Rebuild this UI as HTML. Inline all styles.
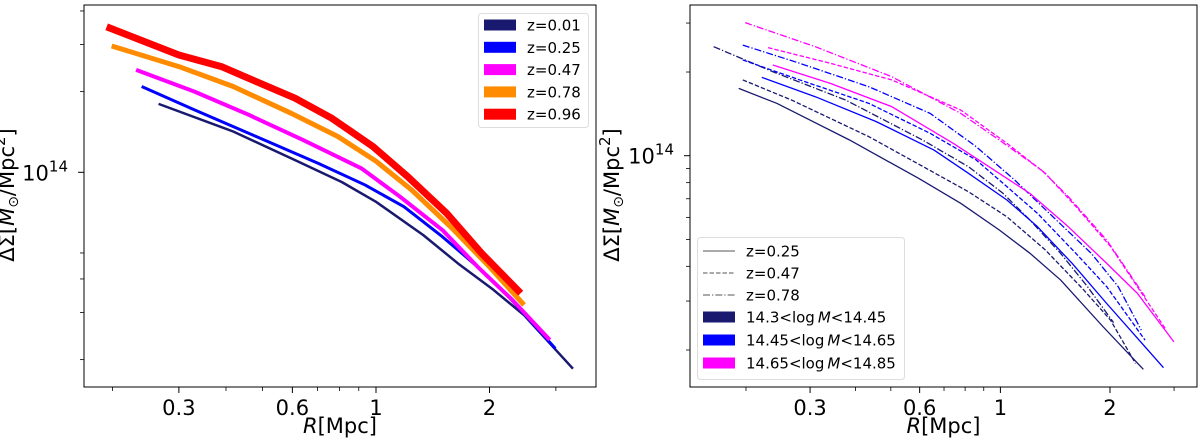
<!DOCTYPE html>
<html><head><meta charset="utf-8">
<style>
html,body{margin:0;padding:0;background:#fff;}
svg{display:block;font-family:"DejaVu Sans","Liberation Sans",sans-serif;}
</style></head>
<body>
<svg id="fig" width="1200" height="439" viewBox="0 0 1200 439" xmlns="http://www.w3.org/2000/svg">
<defs>
<clipPath id="clipL"><rect x="84" y="5" width="512" height="382"/></clipPath>
<clipPath id="clipR"><rect x="690" y="5" width="507" height="382"/></clipPath>
</defs>
<g id="left"></g>
<g id="right"></g>
</svg>
<script>
// ---------- LEFT PANEL DATA (R in Mpc, DeltaSigma in 1e14 Msun/Mpc^2) ----------
const leftLabels = ["z=0.01","z=0.25","z=0.47","z=0.78","z=0.96"];
const leftColors = ["#191970","#0000ff","#ff00ff","#ff8c00","#ff0000"];
const leftWidths = [2.5,3,4,5,7];
const leftR_z001 = [0.265,0.418,0.610,0.811,1.0,1.335,1.65,2.05,2.47,3.33];
const leftV_z001 = [1.80,1.42,1.11,0.92,0.776,0.583,0.457,0.364,0.293,0.185];
const leftR_z025 = [0.239,0.330,0.481,0.703,0.935,1.186,1.50,1.86,2.25,2.99];
const leftV_z025 = [2.09,1.71,1.36,1.08,0.897,0.744,0.575,0.444,0.343,0.220];
const leftR_z047 = [0.231,0.330,0.459,0.640,0.914,1.158,1.50,1.86,2.30,2.89];
const leftV_z047 = [2.41,2.0,1.64,1.32,1.035,0.811,0.609,0.444,0.334,0.237];
const leftR_z078 = [0.199,0.300,0.418,0.596,0.792,1.0,1.243,1.576,2.0,2.47];
const leftV_z078 = [2.96,2.48,2.09,1.66,1.36,1.10,0.859,0.627,0.444,0.320];
const leftR_z096 = [0.193,0.300,0.389,0.481,0.610,0.764,0.98,1.214,1.54,1.905,2.42];
const leftV_z096 = [3.49,2.74,2.48,2.18,1.89,1.59,1.25,0.963,0.703,0.499,0.354];
const xMajorTicks = [0.3,0.6,1,2];
const xMajorLabels = ["0.3","0.6","1","2"];
const xMinorTicks = [0.2,0.4,0.5,0.7,0.8,0.9,3];
const leftYMinor = [0.2,0.3,0.4,0.5,2,3,4];
const rightYMinor = [0.2,0.3,0.4,0.5,0.6,0.7,0.8,0.9,2,3];

// ---------- RIGHT PANEL DATA ----------
const massLo = ["14.3","14.45","14.65"];
const massHi = ["14.45","14.65","14.85"];
const massColors = ["#191970","#0000ff","#ff00ff"];
const zLabels = ["z=0.25","z=0.47","z=0.78"];
const rR_m1_z025 = [0.191,0.243,0.385,0.596,0.778,0.992,1.205,1.464,1.912,2.47];
const rV_m1_z025 = [1.747,1.543,1.139,0.829,0.674,0.541,0.446,0.357,0.243,0.1705];
const rR_m1_z047 = [0.196,0.267,0.435,0.626,0.817,1.042,1.329,1.694,2.008,2.35];
const rV_m1_z047 = [1.873,1.585,1.171,0.900,0.742,0.603,0.458,0.329,0.256,0.179];
const rR_m1_z078 = [0.163,0.237,0.376,0.611,0.817,1.017,1.205,1.464,1.735,2.046];
const rV_m1_z078 = [2.467,2.005,1.585,1.139,0.913,0.732,0.587,0.445,0.338,0.251];
const rR_m2_z025 = [0.221,0.310,0.456,0.657,0.817,1.042,1.265,1.574,1.959,2.806];
const rV_m2_z025 = [1.914,1.63,1.326,1.048,0.864,0.693,0.555,0.410,0.294,0.1728];
const rR_m2_z047 = [0.196,0.281,0.435,0.641,0.858,1.042,1.265,1.613,1.959,2.497];
const rV_m2_z047 = [2.21,1.873,1.543,1.204,0.965,0.774,0.620,0.445,0.338,0.217];
const rR_m2_z078 = [0.196,0.281,0.435,0.641,0.858,1.094,1.394,1.778,2.107,2.438];
const rV_m2_z078 = [2.50,2.15,1.771,1.42,1.078,0.818,0.603,0.445,0.338,0.236];
const rR_m3_z025 = [0.237,0.341,0.503,0.742,0.992,1.205,1.537,1.959,2.378,2.997];
const rV_m3_z025 = [2.12,1.82,1.501,1.108,0.864,0.732,0.555,0.410,0.320,0.214];
const rR_m3_z047 = [0.230,0.341,0.503,0.778,1.042,1.329,1.613,2.008,2.378,2.855];
const rV_m3_z047 = [2.447,2.15,1.873,1.46,1.108,0.864,0.656,0.471,0.338,0.236];
const rR_m3_z078 = [0.199,0.310,0.503,0.778,0.992,1.297,1.537,1.959,2.497];
const rV_m3_z078 = [3.01,2.467,1.924,1.42,1.139,0.888,0.712,0.497,0.311];

const NS = "http://www.w3.org/2000/svg";
function mk(parent, tag, attrs){
  const e = document.createElementNS(NS, tag);
  for (const k in attrs) e.setAttribute(k, attrs[k]);
  parent.appendChild(e);
  return e;
}
const L = {x0:84,x1:596,y0:5,y1:387, xOne:376, xDec:377, yOne:172.3, yDec:268};
const Rt = {x0:690,x1:1197,y0:5,y1:387, xOne:1000.4, xDec:364, yOne:155.7, yDec:278};
function xs(ax, r){ return ax.xOne + ax.xDec*Math.log10(r); }
function ys(ax, v){ return ax.yOne - ax.yDec*Math.log10(v); }
function pathD(ax, R, V){
  return R.map((r,i)=>(i?'L':'M')+xs(ax,r).toFixed(2)+' '+ys(ax,V[i]).toFixed(2)).join(' ');
}

function drawAxes(g, ax, yMinor, ylabX, yTickX){
  const frame = mk(g,'rect',{x:ax.x0,y:ax.y0,width:ax.x1-ax.x0,height:ax.y1-ax.y0,fill:'none',stroke:'#000','stroke-width':1});
  
  
  xMajorTicks.forEach((t,i)=>{
    const x = xs(ax,t);
    const tk = mk(g,'line',{x1:x,x2:x,y1:ax.y1,y2:ax.y1+6,stroke:'#000','stroke-width':1});
    
    
    const tx = mk(g,'text',{x:x,y:ax.y1+28,'text-anchor':'middle','font-size':21});
    tx.textContent = xMajorLabels[i];
    
    
  });
  xMinorTicks.forEach(t=>{
    const x = xs(ax,t);
    const tk = mk(g,'line',{x1:x,x2:x,y1:ax.y1,y2:ax.y1+4,stroke:'#000','stroke-width':0.8});
    
    
  });
  const y1 = ys(ax,1);
  const mt = mk(g,'line',{x1:ax.x0-6,x2:ax.x0,y1:y1,y2:y1,stroke:'#000','stroke-width':1});
  
  
  const yl = mk(g,'text',{x:yTickX,y:y1+8,'text-anchor':'end','font-size':21});
  yl.innerHTML = '10<tspan dy="-9" font-size="15">14</tspan>';
  
  
  yMinor.forEach(t=>{
    const y = ys(ax,t);
    const tk = mk(g,'line',{x1:ax.x0-4,x2:ax.x0,y1:y,y2:y,stroke:'#000','stroke-width':0.8});
    
    
  });
  const xt = mk(g,'text',{x:(ax.x0+ax.x1)/2,y:433,'text-anchor':'middle','font-size':21});
  xt.innerHTML = '<tspan font-style="italic">R</tspan>[Mpc]';
  
  
  const yt = mk(g,'text',{x:0,y:0,'text-anchor':'middle','font-size':21,transform:`translate(${ylabX},${195}) rotate(-90)`});
  yt.innerHTML = 'ΔΣ[<tspan font-style="italic">M</tspan><tspan font-size="14" dy="4">⊙</tspan><tspan dy="-4">/Mpc</tspan><tspan dy="-9" font-size="15">2</tspan><tspan dy="9">]</tspan>';
  
  
}

// ---------- LEFT ----------
const gl = document.getElementById('left');
const leftR = [leftR_z001,leftR_z025,leftR_z047,leftR_z078,leftR_z096];
const leftV = [leftV_z001,leftV_z025,leftV_z047,leftV_z078,leftV_z096];
const cl = mk(gl,'g',{'clip-path':'url(#clipL)'});


leftR.forEach((R,i)=>{
  const p = mk(cl,'path',{d:pathD(L,R,leftV[i]),fill:'none',stroke:leftColors[i],'stroke-width':leftWidths[i],'stroke-linejoin':'round','stroke-linecap':'butt'});
  
  
});
drawAxes(gl, L, leftYMinor, 14, 68);
const lg = mk(gl,'g',{});


mk(lg,'rect',{x:478.5,y:13.5,width:110,height:114,rx:3,fill:'#fff',stroke:'#ddd','stroke-width':1});
leftLabels.forEach((lab,i)=>{
  const y = 25 + i*22.3;
  const r = mk(lg,'rect',{x:484,y:y-5.5,width:32,height:11,fill:leftColors[i]});
  
  
  const t = mk(lg,'text',{x:527,y:y+5.5,'font-size':15});
  t.textContent = lab;
  
  
});

// ---------- RIGHT ----------
const gr = document.getElementById('right');
const rightR = [[rR_m1_z025,rR_m1_z047,rR_m1_z078],[rR_m2_z025,rR_m2_z047,rR_m2_z078],[rR_m3_z025,rR_m3_z047,rR_m3_z078]];
const rightV = [[rV_m1_z025,rV_m1_z047,rV_m1_z078],[rV_m2_z025,rV_m2_z047,rV_m2_z078],[rV_m3_z025,rV_m3_z047,rV_m3_z078]];
const dashes = ['none','4.5 2','7 2 1.3 2'];
const cr = mk(gr,'g',{'clip-path':'url(#clipR)'});


rightR.forEach((grp,m)=>{
  grp.forEach((R,z)=>{
    const p = mk(cr,'path',{d:pathD(Rt,R,rightV[m][z]),fill:'none',stroke:massColors[m],'stroke-width':1.3,'stroke-dasharray':dashes[z],'stroke-linejoin':'round'});
    
    
  });
});
drawAxes(gr, Rt, rightYMinor, 619, 674);
const rg = mk(gr,'g',{});


mk(rg,'rect',{x:697.5,y:237.5,width:207,height:142,rx:3,fill:'#fff',stroke:'#ddd','stroke-width':1});
const rowY = [251,273,295,317,340,363];
zLabels.forEach((lab,i)=>{
  const y = rowY[i];
  const l = mk(rg,'line',{x1:703,x2:735,y1:y,y2:y,stroke:'#777','stroke-width':1.2,'stroke-dasharray':dashes[i]});
  
  
  const t = mk(rg,'text',{x:746,y:y+5.5,'font-size':15});
  t.textContent = lab;
  
  
});
massLo.forEach((lo,i)=>{
  const y = rowY[i+3];
  const r = mk(rg,'rect',{x:703,y:y-5.5,width:32,height:11,fill:massColors[i]});
  
  
  const t = mk(rg,'text',{x:746,y:y+5.5,'font-size':15});
  const a = mk(t,'tspan',{}); a.textContent = lo + '<log';
  const b = mk(t,'tspan',{dx:3,'font-style':'italic'}); b.textContent = 'M';
  const c = mk(t,'tspan',{}); c.textContent = '<' + massHi[i];
  
  
});
</script>
</body></html>
